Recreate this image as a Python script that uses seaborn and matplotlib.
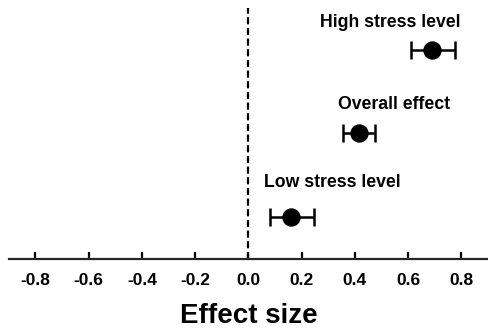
import numpy as np
import pandas as pd
import matplotlib
matplotlib.use('Agg')
import matplotlib.pyplot as plt
import seaborn as sns

# data
groups = ['Low stress level', 'Overall effect', 'High stress level']
effect = [0.16, 0.415, 0.69]
ci_low = [0.08, 0.355, 0.61]
ci_high = [0.245, 0.477, 0.775]
xticks = [-0.8, -0.6, -0.4, -0.2, 0.0, 0.2, 0.4, 0.6, 0.8]

df = pd.DataFrame({'group': groups, 'effect': effect, 'lo': ci_low, 'hi': ci_high})
df['ypos'] = np.arange(1, len(df) + 1)

sns.set_style('ticks')
plt.rcParams['font.family'] = ['Liberation Sans', 'DejaVu Sans']
plt.rcParams['font.weight'] = 'bold'
plt.rcParams['text.color'] = 'black'
plt.rcParams['axes.labelcolor'] = 'black'
plt.rcParams['xtick.color'] = 'black'

fig = plt.figure(figsize=(4.88, 3.29), dpi=100)
ax = fig.add_axes([0.018, 0.213, 0.982, 0.763])

ax.axvline(0, color='black', ls=(0, (3.2, 1.6)), lw=1.6, zorder=1)

ax.errorbar(df['effect'], df['ypos'],
            xerr=[df['effect'] - df['lo'], df['hi'] - df['effect']],
            fmt='none', ecolor='black', elinewidth=1.8, capsize=6.5, capthick=1.8, zorder=2)
sns.scatterplot(data=df, x='effect', y='ypos', color='black', s=150,
                edgecolor='black', legend=False, ax=ax, zorder=3)

# label offsets (left edge, vertical shift)
label_x = [0.06, 0.337, 0.27]
label_dy = [0.41, 0.35, 0.33]
for gx, gy, dy, txt in zip(label_x, df['ypos'], label_dy, df['group']):
    ax.text(gx, gy + dy, txt, ha='left', va='center', fontsize=12.7, fontweight='bold')

ax.set_xlim(-0.9, 0.9)
ax.set_ylim(0.5, 3.5)
ax.set_xticks(xticks)
ax.set_xticklabels([f'{t:.1f}' for t in xticks], fontsize=12.5, fontweight='bold')
ax.set_yticks([])
ax.set_ylabel('')
ax.set_xlabel('Effect size', fontsize=20, fontweight='bold', labelpad=11)
ax.tick_params(axis='x', direction='in', length=5, width=1.6, pad=10)
for s in ['top', 'right', 'left']:
    ax.spines[s].set_visible(False)
ax.spines['bottom'].set_linewidth(1.6)

fig.savefig('out.png', dpi=100)
